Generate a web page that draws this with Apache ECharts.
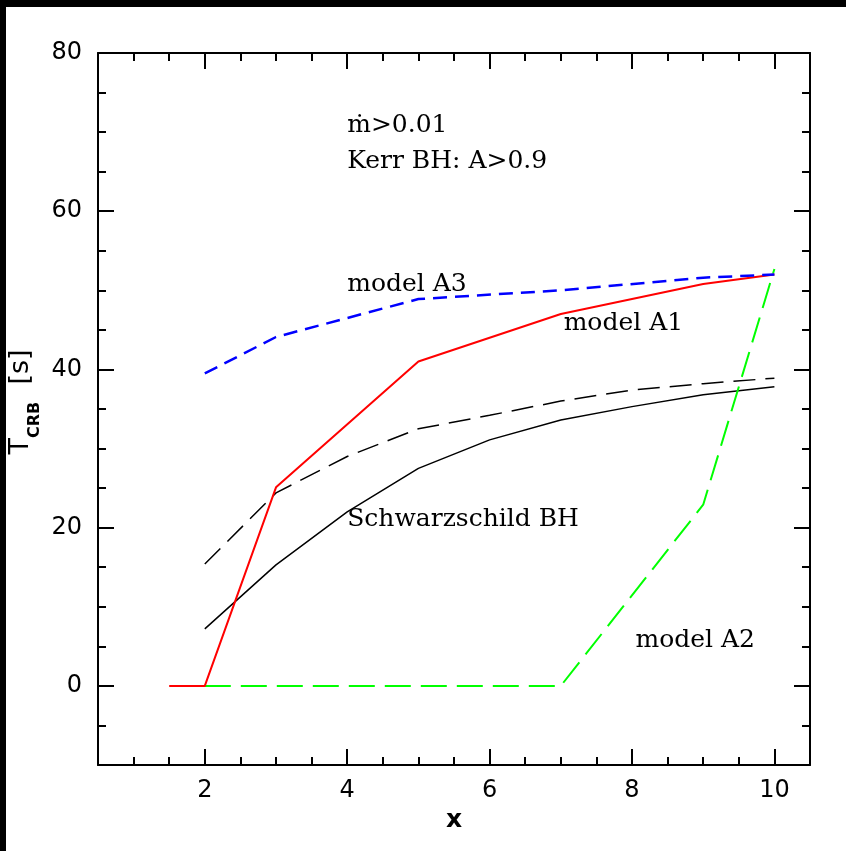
<!DOCTYPE html>
<html>
<head>
<meta charset="utf-8">
<script src="https://cdn.jsdelivr.net/npm/echarts@6/dist/echarts.min.js"></script>
<style>
html,body{margin:0;padding:0;background:#fff;}
#c{width:846px;height:851px;}
</style>
</head>
<body>
<div id="c"></div>
<script>
// ---- data ----
const xMajor = [2, 4, 6, 8, 10];
const xMinor = [1, 1.5, 2.5, 3, 3.5, 4.5, 5, 5.5, 6.5, 7, 7.5, 8.5, 9, 9.5];
const yMajor = [0, 20, 40, 60, 80];
const yMinor = [-5, 5, 10, 15, 25, 30, 35, 45, 50, 55, 65, 70, 75];

const xA3 = [2, 3, 5, 7, 9, 10];
const yA3 = [39.5, 44.1, 48.9, 50.0, 51.6, 52.0];

const xA1 = [1.5, 2, 3, 5, 7, 9, 10];
const yA1 = [0, 0, 25.1, 41.0, 47.0, 50.8, 52.0];

const xA2 = [2, 7, 9, 10];
const yA2 = [0, 0, 22.9, 52.7];

const xBH = [2, 3, 4, 5, 6, 7, 8, 9, 10];
const ySchw = [7.2, 15.3, 22.0, 27.5, 31.1, 33.6, 35.3, 36.8, 37.8];
const yKerrDash = [15.4, 24.4, 29.0, 32.5, 34.2, 36.0, 37.4, 38.2, 38.9];

const annotations = [
  { text: 'ṁ>0.01', x: 4, y: 70.8 },
  { text: 'Kerr BH: A>0.9', x: 4, y: 66.3 },
  { text: 'model A3', x: 4, y: 50.7 },
  { text: 'model A1', x: 7.04, y: 45.8 },
  { text: 'Schwarzschild BH', x: 4, y: 21.0 },
  { text: 'model A2', x: 8.05, y: 5.8 }
];

// ---- chart ----
const pair = (xs, ys) => xs.map((x, i) => [x, ys[i]]);
const black = '#000';
function xAx(pos, major) {
  return {
    type: 'value', position: pos, min: 0.5, max: 10.5,
    axisLine: { show: major, onZero: false, lineStyle: { color: black, width: 2 } },
    axisTick: { show: true, inside: true, length: major ? 16 : 8, customValues: major ? xMajor : xMinor,
      lineStyle: { color: black, width: 2 } },
    axisLabel: { show: major && pos === 'bottom', customValues: xMajor, margin: 14,
      color: black, fontSize: 24, fontFamily: 'DejaVu Sans' },
    splitLine: { show: false },
    name: (major && pos === 'bottom') ? 'x' : '',
    nameLocation: 'middle', nameGap: 38,
    nameTextStyle: { color: black, fontSize: 25, fontWeight: 'bold', fontFamily: 'DejaVu Sans' }
  };
}
function yAx(pos, major) {
  return {
    type: 'value', position: pos, min: -10, max: 80,
    axisLine: { show: major, onZero: false, lineStyle: { color: black, width: 2 } },
    axisTick: { show: true, inside: true, length: major ? 16 : 8, customValues: major ? yMajor : yMinor,
      lineStyle: { color: black, width: 2 } },
    axisLabel: { show: major && pos === 'left', customValues: yMajor, margin: 16,
      color: black, fontSize: 24, fontFamily: 'DejaVu Sans' },
    splitLine: { show: false }
  };
}

const chart = echarts.init(document.getElementById('c'), null, { renderer: 'canvas' });
const lineSeries = (name, data, color, width, type, z) => ({
  name, type: 'line', data, xAxisIndex: 0, yAxisIndex: 0,
  showSymbol: false, symbol: 'none', smooth: false, animation: false, z,
  lineStyle: { color, width, type }
});

const option = {
  backgroundColor: '#fff',
  animation: false,
  grid: { left: 98, right: 36, top: 53, bottom: 86, containLabel: false, outerBoundsMode: 'none' },
  xAxis: [xAx('bottom', true), xAx('bottom', false), xAx('top', true), xAx('top', false)],
  yAxis: [yAx('left', true), yAx('left', false), yAx('right', true), yAx('right', false)],
  series: [
    lineSeries('Schwarzschild', pair(xBH, ySchw), black, 1.5, 'solid', 2),
    lineSeries('Kerr dashed', pair(xBH, yKerrDash), black, 1.5, [22, 10], 2),
    lineSeries('model A2', pair(xA2, yA2), '#00ff00', 2, [26, 10], 3),
    lineSeries('model A1', pair(xA1, yA1), '#ff0000', 2, 'solid', 4),
    lineSeries('model A3', pair(xA3, yA3), '#0000ff', 2.5, [14, 8], 5)
  ]
};
chart.setOption(option);

const g = annotations.map(a => {
  const p = chart.convertToPixel({ xAxisIndex: 0, yAxisIndex: 0 }, [a.x, a.y]);
  return {
    type: 'text', x: p[0], y: p[1], z: 10,
    style: { text: a.text, fill: black, fontSize: 25, fontFamily: 'DejaVu Serif',
      textAlign: 'left', textVerticalAlign: 'middle' }
  };
});
// y-axis title
g.push({
  type: 'text', x: 25, y: 402, rotation: Math.PI / 2, z: 10,
  style: {
    text: '{t|T}{s|CRB}{t|  [s]}', align: 'center', verticalAlign: 'middle',
    rich: {
      t: { fontSize: 27, fontFamily: 'DejaVu Sans', fill: black, lineHeight: 35, verticalAlign: 'top' },
      s: { fontSize: 16, fontFamily: 'DejaVu Sans', fontWeight: 'bold', fill: black, lineHeight: 35, verticalAlign: 'bottom' }
    }
  }
});
g.push({ type: 'rect', shape: { x: 0, y: 0, width: 846, height: 7 }, style: { fill: '#000' }, z: 20 });
g.push({ type: 'rect', shape: { x: 0, y: 0, width: 6, height: 851 }, style: { fill: '#000' }, z: 20 });
chart.setOption({ graphic: g });
</script>
</body>
</html>
